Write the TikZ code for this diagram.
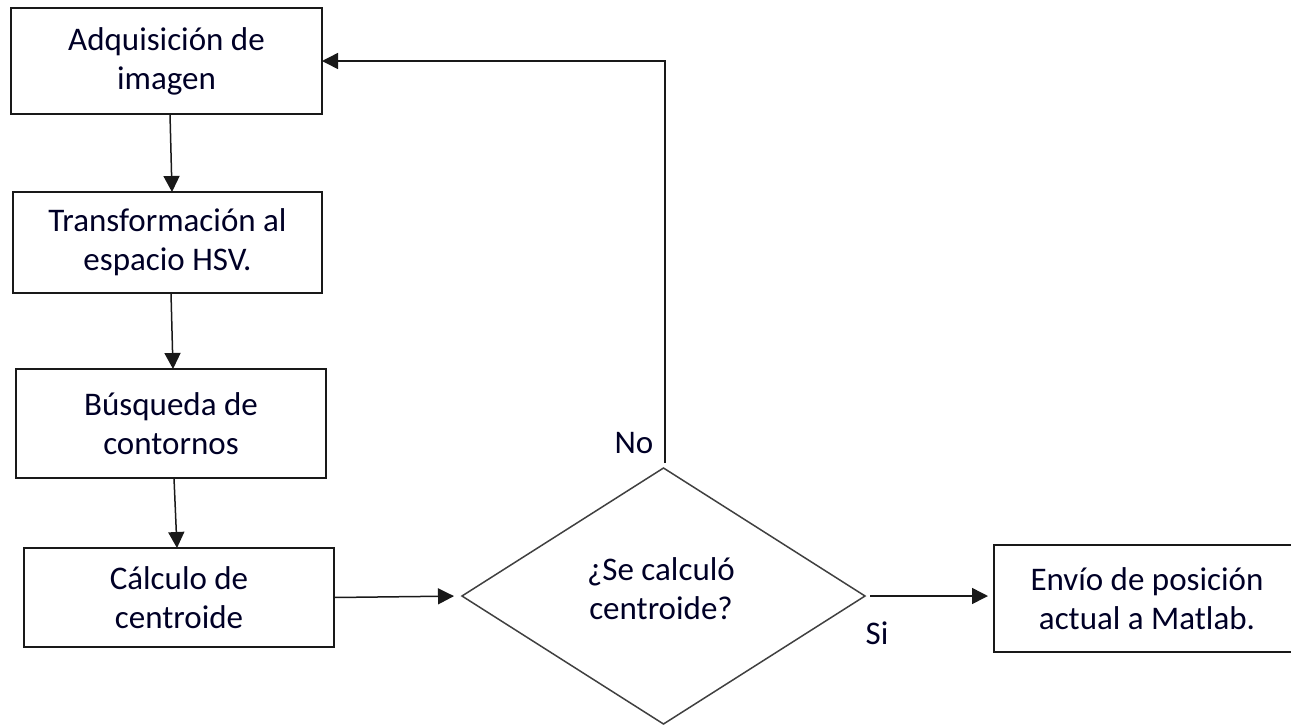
\documentclass[tikz,border=0pt]{standalone}
\usepackage{fontspec}
\setmainfont{Carlito}
\usetikzlibrary{shapes.geometric,arrows.meta,calc}
\begin{document}
\begin{tikzpicture}[x=1pt,y=-1pt,
  boxline/.style={draw=black!90,line width=1.6pt},
  box/.style={boxline,rectangle,inner sep=0pt,outer sep=0pt,align=center,
    font=\fontsize{33}{39}\selectfont,text=black!85!blue},
  lbl/.style={font=\fontsize{33}{39}\selectfont,text=black!85!blue,inner sep=0pt},
  arr/.style={line width=1.5pt,draw=black!90,-{Triangle[length=16pt,width=16pt]}}]
\useasboundingbox (0,0) rectangle (1291,724);
\clip (0,0) rectangle (1291,724);
\node[box,minimum width=311pt,minimum height=106pt] (b1) at (166.5,61) {Adquisición de\\imagen};
\node[box,minimum width=309pt,minimum height=101pt] (b2) at (167.5,242.5) {Transformación al\\espacio HSV.};
\node[box,minimum width=310pt,minimum height=109pt] (b3) at (171,423.5) {Búsqueda de\\contornos};
\node[box,minimum width=310pt,minimum height=99pt] (b4) at (179,597.5) {Cálculo de\\centroide};
\node[box,draw=none,minimum width=306pt,minimum height=107pt] (b5) at (1147,598.5) {Envío de posición\\actual a Matlab.};
\draw[boxline] (b5.south west) rectangle ([xshift=40pt]b5.north east);
\node[diamond,draw=black!75,line width=1.5pt,minimum width=403pt,minimum height=256pt,inner sep=0pt,outer sep=0pt] (d) at (663.5,596) {};
\node[lbl,align=center] (dt) at (661,589) {¿Se calculó\\centroide?};
\node[lbl] (no) at (634,443) {No};
\node[lbl] (si) at (877,633) {Si};
\draw[arr] ([xshift=3.5pt]b1.south) -- ([xshift=4.5pt]b2.north);
\draw[arr] ([xshift=3.5pt]b2.south) -- ([xshift=2pt]b3.north);
\draw[arr] ([xshift=3pt]b3.south) -- ([xshift=-2pt]b4.north);
\draw[arr,shorten >=8pt] (b4.east) -- (d.west);
\draw[arr,shorten <=5pt] ([xshift=1.5pt]d.north) |- (b1.east);
\draw[arr,shorten <=5pt,shorten >=6pt] (d.east) -- (d.east -| b5.west);
\end{tikzpicture}
\end{document}
